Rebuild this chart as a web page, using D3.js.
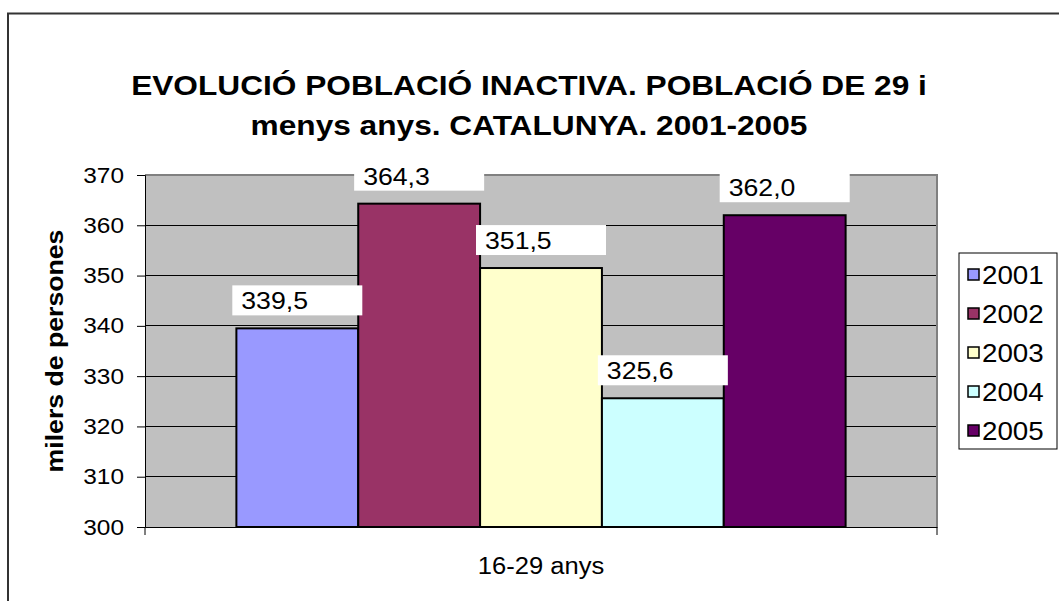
<!DOCTYPE html>
<html>
<head>
<meta charset="utf-8">
<script src="https://cdn.jsdelivr.net/npm/d3@7"></script>
<style>
    body { margin: 0; background: #fff; }
    text { font-family: "Liberation Sans", Arial, sans-serif; fill: #000; }
</style>
</head>
<body>
<div class="module-graph"></div>
<script>
"use strict"

// dades
const category = ["16-29 anys"];
const years = ["2001", "2002", "2003", "2004", "2005"];
const values = [339.5, 364.3, 351.5, 325.6, 362.0];
const yTicks = [300, 310, 320, 330, 340, 350, 360, 370];
const titleLines = ["EVOLUCIÓ POBLACIÓ INACTIVA. POBLACIÓ DE 29 i", "menys anys. CATALUNYA. 2001-2005"];
const yTitle = "milers de persones";

const barColors = ["#9999FF", "#993366", "#FFFFCC", "#CCFFFF", "#660066"];

let width = 1059,
    height = 601;
let plotLeft = 145, plotRight = 937, plotTop = 175, plotBottom = 527;
const wide = 1.11; // el text original surt una mica eixamplat

const svg = d3.select("div.module-graph").append("svg")
    .attr("width", width)
    .attr("height", height);

function stretch(sel) {
    sel.each(function () {
        const len = this.getComputedTextLength();
        d3.select(this)
            .attr("textLength", len * wide)
            .attr("lengthAdjust", "spacingAndGlyphs");
    });
}

// marc exterior
svg.append("rect")
    .attr("x", 8)
    .attr("y", 13.5)
    .attr("width", 1070)
    .attr("height", 620)
    .attr("fill", "#fff")
    .attr("stroke", "#333")
    .attr("stroke-width", 2);

const scaleY = d3.scaleLinear()
    .domain([300, 370])
    .range([plotBottom, plotTop]);

const scaleX = d3.scaleBand()
    .domain(category)
    .range([plotLeft, plotRight]);

const scaleYear = d3.scaleBand()
    .domain(years)
    .range([0, scaleX.bandwidth()])
    .paddingInner(0)
    .paddingOuter(0.75);

const color = d3.scaleOrdinal()
    .domain(years)
    .range(barColors);

// fons
svg.append("rect")
    .attr("x", plotLeft)
    .attr("y", plotTop)
    .attr("width", plotRight - plotLeft)
    .attr("height", plotBottom - plotTop)
    .attr("fill", "#C0C0C0");

// linies de graella
svg.append("g")
    .selectAll("line")
    .data(yTicks.slice(1, -1))
    .join("line")
    .attr("x1", plotLeft)
    .attr("x2", plotRight)
    .attr("y1", d => scaleY(d))
    .attr("y2", d => scaleY(d))
    .attr("stroke", "#000")
    .attr("stroke-width", 1)
    .attr("shape-rendering", "crispEdges");

// vora gris
svg.append("path")
    .attr("d", "M" + plotLeft + "," + plotTop + "H" + plotRight + "V" + plotBottom)
    .attr("fill", "none")
    .attr("stroke", "#808080")
    .attr("stroke-width", 2);

const yAxis = d3.axisLeft(scaleY)
    .tickValues(yTicks)
    .tickSize(8)
    .tickPadding(13)
    .tickFormat(d3.format("d"));

svg.append("g")
    .attr("class", "y-axis")
    .attr("transform", "translate(" + plotLeft + ",0)")
    .call(yAxis)
    .call(g => g.select(".domain").attr("stroke", "#000"))
    .call(g => g.selectAll("text")
        .attr("font-size", 22)
        .attr("font-family", "Liberation Sans, Arial, sans-serif")
        .call(stretch));

const xAxis = d3.axisBottom(scaleX)
    .tickSize(0)
    .tickPadding(31);

svg.append("g")
    .attr("class", "x-axis")
    .attr("transform", "translate(0," + plotBottom + ")")
    .call(xAxis)
    .call(g => g.select(".domain").attr("stroke", "#000"))
    .call(g => g.selectAll("text")
        .attr("font-size", 23)
        .attr("font-family", "Liberation Sans, Arial, sans-serif")
        .call(stretch));

// marques a les vores de la categoria
svg.append("g")
    .selectAll("line")
    .data(scaleX.range())
    .join("line")
    .attr("x1", d => d)
    .attr("x2", d => d)
    .attr("y1", plotBottom)
    .attr("y2", plotBottom + 8)
    .attr("stroke", "#000");

// barres
const group = svg.append("g")
    .attr("transform", "translate(" + scaleX(category[0]) + ",0)");

group.selectAll("rect.bar")
    .data(years)
    .join("rect")
    .attr("class", "bar")
    .attr("x", d => scaleYear(d))
    .attr("y", (d, i) => scaleY(values[i]))
    .attr("width", scaleYear.bandwidth())
    .attr("height", (d, i) => plotBottom - scaleY(values[i]))
    .attr("fill", d => color(d))
    .attr("stroke", "#000")
    .attr("stroke-width", 2);

// etiquetes
const fmt = v => d3.format(".1f")(v).replace(".", ",");

const labels = group.selectAll("g.label")
    .data(years)
    .join("g")
    .attr("class", "label")
    .attr("transform", (d, i) => "translate(" + (scaleYear(d) + scaleYear.bandwidth() / 2) + "," + (scaleY(values[i]) - 13) + ")");

labels.append("rect")
    .attr("x", -65)
    .attr("y", -30)
    .attr("width", 130)
    .attr("height", 30)
    .attr("fill", "#fff");

labels.append("text")
    .attr("x", -56)
    .attr("y", -6)
    .attr("font-size", 24)
    .text((d, i) => fmt(values[i]))
    .call(stretch);

// titol
svg.append("g")
    .selectAll("text")
    .data(titleLines)
    .join("text")
    .attr("x", 529)
    .attr("y", (d, i) => 95 + i * 40)
    .attr("text-anchor", "middle")
    .attr("font-size", 28.5)
    .attr("font-weight", "bold")
    .text(d => d)
    .call(stretch);

// titol eix y
svg.append("text")
    .attr("transform", "translate(63,351) rotate(-90)")
    .attr("text-anchor", "middle")
    .attr("font-size", 24)
    .attr("font-weight", "bold")
    .text(yTitle)
    .call(stretch);

// llegenda
const legend = svg.append("g")
    .attr("transform", "translate(959,253)");

legend.append("rect")
    .attr("width", 98)
    .attr("height", 196)
    .attr("fill", "#fff")
    .attr("stroke", "#000")
    .attr("stroke-width", 1);

const item = legend.selectAll("g.item")
    .data(years)
    .join("g")
    .attr("class", "item")
    .attr("transform", (d, i) => "translate(9," + (22 + i * 39) + ")");

item.append("rect")
    .attr("x", 0)
    .attr("y", -6)
    .attr("width", 11)
    .attr("height", 11)
    .attr("fill", d => color(d))
    .attr("stroke", "#000")
    .attr("stroke-width", 1.5);

item.append("text")
    .attr("x", 14)
    .attr("y", 9)
    .attr("font-size", 25)
    .text(d => d)
    .call(stretch);
</script>
</body>
</html>
